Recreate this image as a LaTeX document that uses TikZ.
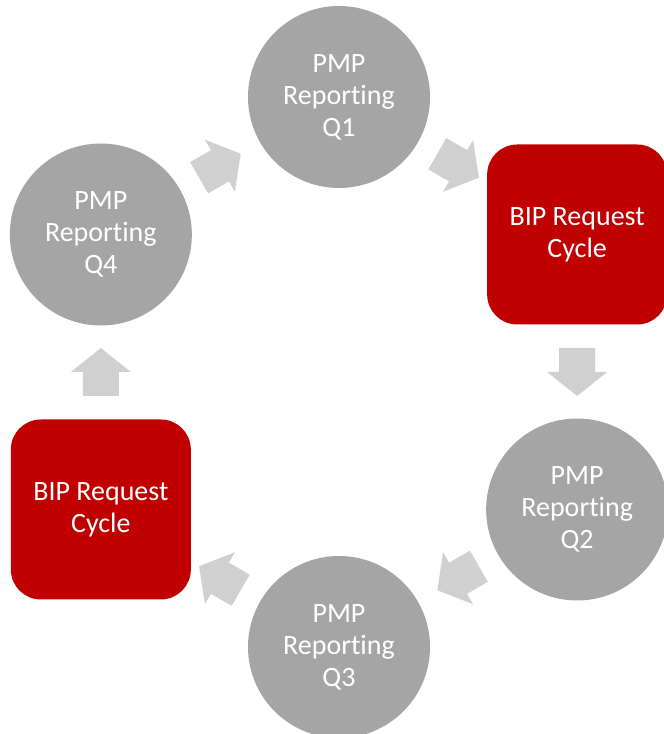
\documentclass[tikz,border=0pt]{standalone}
\usepackage{fontspec}
\setmainfont[Ligatures=NoCommon]{Carlito}
\usetikzlibrary{calc}
\definecolor{cgray}{HTML}{A5A5A5}
\definecolor{cred}{HTML}{C00000}
\definecolor{carrow}{HTML}{D0D0D0}
\begin{document}
\begin{tikzpicture}[x=1pt,y=1pt,
  lbl/.style={text=white,align=center,font=\fontsize{28}{32}\selectfont},
  pmp/.style={lbl,circle,fill=cgray,minimum size=182pt,inner sep=0pt},
  bip/.style={lbl,rectangle,rounded corners=30pt,fill=cred,minimum width=180pt,minimum height=180pt,inner sep=0pt},
  blockarrow/.style={fill=carrow}]
\useasboundingbox (0,0) rectangle (664,734);
\clip (0,0) rectangle (664,734);
\coordinate (c) at (339,362);
\node[pmp] (q1) at ($(c)+(90:275)$) {PMP\\Reporting\\Q1};
\node[bip] (b1) at ($(c)+(30:275)$) {BIP Request\\Cycle};
\node[pmp] (q2) at ($(c)+(-30:275)$) {PMP\\Reporting\\Q2};
\node[pmp] (q3) at ($(c)+(-90:275)$) {PMP\\Reporting\\Q3};
\node[bip] (b2) at ($(c)+(210:275)$) {BIP Request\\Cycle};
\node[pmp] (q4) at ($(c)+(150:275)$) {PMP\\Reporting\\Q4};
\coordinate (m1) at ($(q4.center)!0.5!(q1.center)$);
\coordinate (m2) at ($(q1.center)!0.5!(b1.center)$);
\coordinate (m3) at ($(b1.center)!0.5!(q2.center)$);
\coordinate (m4) at ($(q2.center)!0.5!(q3.center)$);
\coordinate (m5) at ($(q3.center)!0.5!(b2.center)$);
\coordinate (m6) at ($(b2.center)!0.5!(q4.center)$);
\foreach \m/\a in {m1/30,m2/-30,m3/-90,m4/210,m5/150,m6/90}{
  \fill[blockarrow,shift={(\m)},rotate=\a]
    (-24,-18) -- (0,-18) -- (0,-30) -- (24,0) -- (0,30) -- (0,18) -- (-24,18) -- cycle;
}
\end{tikzpicture}
\end{document}
